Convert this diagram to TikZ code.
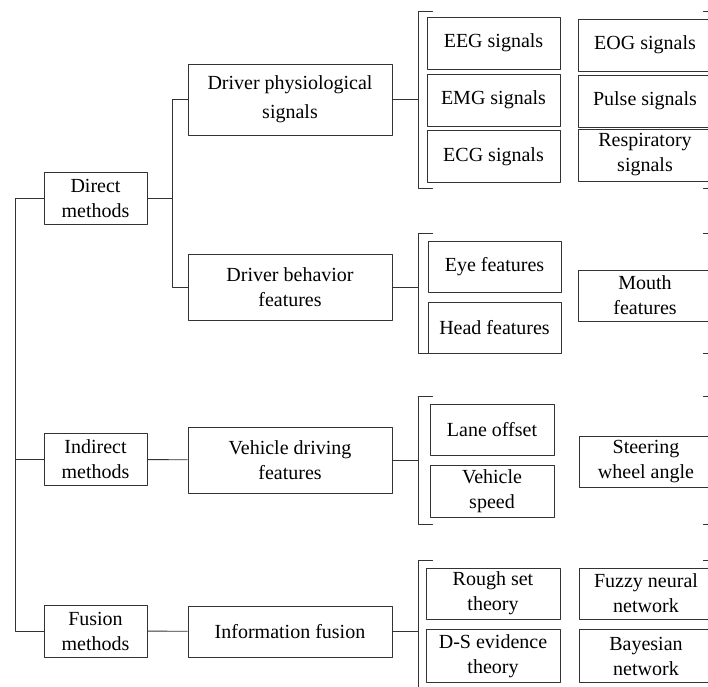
\documentclass[tikz,border=0pt]{standalone}
\usepackage{fontspec}
\setmainfont{Liberation Serif}
\newfontfamily\boxfont{Liberation Serif}
\begin{document}
\begin{tikzpicture}[x=1pt, y=-1pt, font=\boxfont\fontsize{20}{25}\selectfont, line join=round,
    wire/.style={draw=black!80, line width=0.9pt},
    box/.style={wire, align=center, inner sep=0pt, minimum height=52pt},
    method/.style={box, minimum width=103pt},
    group/.style={box, minimum width=204pt, minimum height=66pt},
    leaf/.style={box, minimum width=133pt},
    wide/.style={box, minimum width=134pt}]
    \useasboundingbox (0,0) rectangle (708,686);
    % methods
    \node[method] (direct) at (95.5,198) {Direct\\methods};
    \node[method] (indirect) at (95.5,459.5) {Indirect\\methods};
    \node[method] (fusion) at (95.5,631) {Fusion\\methods};
    % feature groups
    \node[group, minimum height=71pt] (physio) at (290,99.5) {Driver physiological\\[4pt]signals};
    \node[group] (behav) at (290,287) {Driver behavior\\features};
    \node[group] (vehicle) at (290,460) {Vehicle driving\\features};
    \node[group, minimum height=51pt] (info) at (290,631.5) {Information fusion};
    % leaves
    \node[leaf] (eeg) at (493.5,43) {EEG signals};
    \node[leaf] (emg) at (493.5,100) {EMG signals};
    \node[leaf] (ecg) at (493.5,156.5) {ECG signals};
    \node[wide] (eog) at (645,45) {EOG signals};
    \node[wide] (pulse) at (645,101) {Pulse signals};
    \node[wide] (resp) at (645,155) {Respiratory\\signals};
    \node[leaf, minimum height=51pt] (eye) at (494.5,266.5) {Eye features};
    \node[leaf, minimum height=51pt] (head) at (494.5,327.5) {Head features};
    \node[wide, minimum height=51pt] (mouth) at (645,295.5) {Mouth\\features};
    \node[leaf, minimum width=124pt, minimum height=51pt] (lane) at (492,429.5) {Lane offset};
    \node[leaf, minimum width=124pt] (speed) at (492,491) {Vehicle\\speed};
    \node[wide, minimum height=51pt] (steer) at (646,461.5) {Steering\\wheel angle};
    \node[wide, minimum height=51pt] (rough) at (493,593.5) {Rough set\\theory};
    \node[wide, minimum height=53pt] (ds) at (493,656) {D-S evidence\\theory};
    \node[wide, minimum height=51pt] (fuzzy) at (646,593.5) {Fuzzy neural\\network};
    \node[wide, minimum height=53pt] (bayes) at (646,656) {Bayesian\\network};
    % brackets
    \foreach \i/\t/\b in {1/11/188, 2/233/353, 3/396/524, 4/560/692} {
        \coordinate (bt\i) at (418,\t);
        \draw[wire] (433,\t) -- (bt\i) -- (418,\b) -- (433,\b);
        \draw[wire] (703,\t) -- (709,\t) -- (709,\b) -- (703,\b);
    }
    % tree
    \draw[wire] (direct.west) -- ++(-28,0) coordinate (root) |- (fusion.west);
    \draw[wire] (indirect) -- (indirect -| root);
    \draw[wire] (direct.east) -- ++(25,0) coordinate (split);
    \draw[wire] (physio.west) -| (split) |- (behav.west);
    \draw[wire] (indirect) -- (vehicle);
    \draw[wire] (fusion) -- (info);
    \draw[wire] (physio) -- (physio -| bt1);
    \draw[wire] (behav) -- (behav -| bt2);
    \draw[wire] (vehicle) -- (vehicle -| bt3);
    \draw[wire] (info) -- (info -| bt4);
\end{tikzpicture}
\end{document}
